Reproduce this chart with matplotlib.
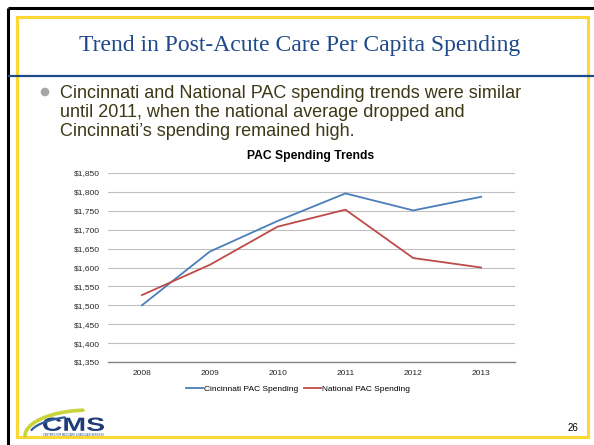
import numpy as np
import matplotlib
matplotlib.use("Agg")
import matplotlib.pyplot as plt
from matplotlib.textpath import TextPath
from matplotlib.font_manager import FontProperties
from matplotlib.patches import PathPatch, Rectangle
from matplotlib.transforms import Affine2D
from matplotlib.ticker import FuncFormatter

# Data
years = ["2008", "2009", "2010", "2011", "2012", "2013"]
cincinnati = [1500, 1642, 1723, 1796, 1751, 1787]
national = [1527, 1607, 1708, 1753, 1625, 1600]
series_names = ["Cincinnati PAC Spending", "National PAC Spending"]
y_ticks = [1350, 1400, 1450, 1500, 1550, 1600, 1650, 1700, 1750, 1800, 1850]

slide_title = "Trend in Post-Acute Care Per Capita Spending"
bullet_lines = [
    "Cincinnati and National PAC spending trends were similar",
    "until 2011, when the national average dropped and",
    "Cincinnati\u2019s spending remained high.",
]
chart_title = "PAC Spending Trends"
page_number = "26"

W, H = 594, 445
fig = plt.figure(figsize=(W / 100, H / 100), dpi=100)
fig.patch.set_facecolor("white")

# Slide layer in pixel coordinates (y grows downward)
bg = fig.add_axes([0, 0, 1, 1])
bg.set_xlim(0, W)
bg.set_ylim(H, 0)
bg.axis("off")

navy = "#1F4A8A"
# black frame edges
bg.plot([8, W], [8, 8], color="black", lw=2.2, solid_capstyle="butt")
bg.plot([8, 8], [8, H], color="black", lw=2.2, solid_capstyle="butt")
# yellow inner frame
bg.add_patch(Rectangle((17, 17), 571, 420, fill=False, ec="#FDD835", lw=2.2))
# rule under the title
bg.plot([8, W], [76, 76], color=navy, lw=1.6, solid_capstyle="butt")

bg.text(300, 45, slide_title, family="Liberation Serif", fontsize=17,
        color=navy, ha="center", va="center")

# bullet
bg.add_patch(plt.Circle((45, 92), 3.6, color="#A6A6A6"))
for i, line in enumerate(bullet_lines):
    bg.text(60, 93 + i * 19.5, line, family="Liberation Sans", fontsize=13,
            color="#3D3816", ha="left", va="center")

bg.text(573, 428, page_number, family="Liberation Sans", fontsize=7,
        color="black", ha="center", va="center")

# CMS logo: swooshes and lettering
th = np.linspace(0.0, np.pi / 2 * 0.93, 80)
bg.plot(90 - 65 * np.cos(th), 436 - 26 * np.sin(th), color="#C9D33A",
        lw=2.6, solid_capstyle="round")
th2 = np.linspace(0.3, 1.2, 60)
bg.plot(85 - 56 * np.cos(th2), 436 - 20 * np.sin(th2), color="#2F5B9A",
        lw=1.6, solid_capstyle="round")

fp = FontProperties(family="Liberation Sans", weight="bold")
tp = TextPath((0, 0), "CMS", size=20, prop=fp)
ext = tp.get_extents()
scale_x = 61 / ext.width
scale_y = 13.5 / ext.height
tr = Affine2D().translate(-ext.x0, -ext.y0).scale(scale_x, -scale_y).translate(43, 431)
bg.add_patch(PathPatch(tr.transform_path(tp), color="#1F3C78", lw=0))
bg.text(73, 434.5, "CENTERS FOR MEDICARE & MEDICAID SERVICES", fontsize=1.8,
        family="Liberation Sans", color="#1F3C78", ha="center", va="center")

# Chart
ax = fig.add_axes([108 / W, 1 - 362 / H, 407 / W, 189 / H])
x = np.arange(len(years))
ax.plot(x, cincinnati, color="#4A7EBB", lw=1.3, label=series_names[0])
ax.plot(x, national, color="#BE4B48", lw=1.3, label=series_names[1])
ax.set_xlim(-0.5, len(years) - 0.5)
ax.set_ylim(y_ticks[0], y_ticks[-1])
ax.set_yticks(y_ticks)
ax.yaxis.set_major_formatter(FuncFormatter(lambda v, p: f"${v:,.0f}"))
ax.set_xticks(x)
ax.set_xticklabels(years)
ax.grid(axis="y", color="#BFBFBF", lw=0.8)
ax.set_axisbelow(True)
for s in ["top", "right", "left"]:
    ax.spines[s].set_visible(False)
ax.spines["bottom"].set_color("#868686")
ax.spines["bottom"].set_linewidth(1.0)
ax.tick_params(axis="both", length=0, labelsize=6, labelcolor="#262626")
ax.tick_params(axis="y", pad=6)
ax.tick_params(axis="x", pad=6)
for lab in ax.get_xticklabels() + ax.get_yticklabels():
    lab.set_family("Liberation Sans")
ax.set_facecolor("none")

fig.text(311 / W, 1 - 156 / H, chart_title, family="Liberation Sans",
         fontsize=8.7, weight="bold", ha="center", va="center")

leg = fig.legend(loc="center", bbox_to_anchor=(298 / W, 1 - 389 / H), ncol=2,
                 frameon=False, handlelength=2.0,
                 handletextpad=0.1, columnspacing=0.8,
                 prop={"family": "Liberation Sans", "size": 6})

fig.savefig("out.png", dpi=100)
